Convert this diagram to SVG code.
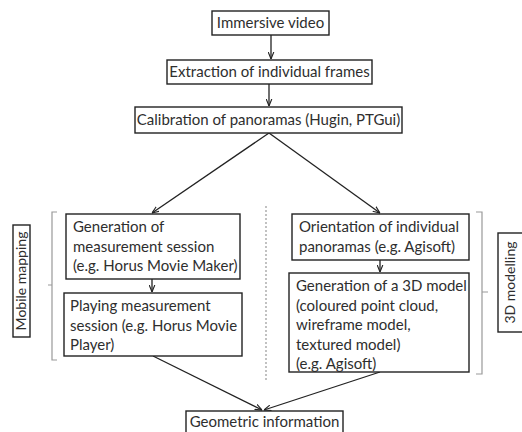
<svg xmlns="http://www.w3.org/2000/svg" width="522" height="432" viewBox="0 0 522 432">
<defs>
<marker id="ah" viewBox="0 0 10 10" refX="10" refY="5" markerWidth="7" markerHeight="7" orient="auto" markerUnits="userSpaceOnUse">
<path d="M0,1 L10,5 L0,9" fill="none" stroke="#222" stroke-width="1.6"/>
</marker>
<style>
.box{fill:#fff;stroke:#222;stroke-width:1.4}
.t{font-family:Lato,"Liberation Sans",sans-serif;font-size:15px;fill:#2e2e2e}
.v{font-size:14px}
.c{text-anchor:middle}
.ln{stroke:#222;stroke-width:1.3;fill:none}
.br{stroke:#999;stroke-width:1.2;fill:none}
</style>
</defs>
<rect width="522" height="432" fill="#fff"/>
<g id="connectors">
<line class="ln" x1="271" y1="35" x2="271" y2="59" marker-end="url(#ah)"/>
<line class="ln" x1="269" y1="84" x2="269" y2="106" marker-end="url(#ah)"/>
<line class="ln" x1="269" y1="133" x2="152" y2="213" marker-end="url(#ah)"/>
<line class="ln" x1="269" y1="133" x2="380" y2="213" marker-end="url(#ah)"/>
<line class="ln" x1="152" y1="279" x2="152" y2="292" marker-end="url(#ah)"/>
<line class="ln" x1="380" y1="260" x2="380" y2="272" marker-end="url(#ah)"/>
<line class="ln" x1="153" y1="356" x2="262" y2="410" marker-end="url(#ah)"/>
<line class="ln" x1="380" y1="372" x2="264" y2="410" marker-end="url(#ah)"/>
<line x1="266" y1="206" x2="266" y2="380" stroke="#999" stroke-width="1.2" stroke-dasharray="2,2"/>
</g>
<g id="n-immersive">
<rect class="box" x="212" y="11" width="117" height="24" stroke-width="2.2"/>
<text class="t c" x="270.5" y="28">Immersive video</text>
</g>
<g id="n-extraction">
<rect class="box" x="167" y="60" width="205" height="24"/>
<text class="t c" x="269.5" y="77">Extraction of individual frames</text>
</g>
<g id="n-calibration">
<rect class="box" x="135" y="107" width="267" height="26"/>
<text class="t c" x="268.5" y="125">Calibration of panoramas (Hugin, PTGui)</text>
</g>
<g id="n-generation-session">
<rect class="box" x="66" y="214" width="174" height="65"/>
<text class="t" x="73" y="232">Generation of</text>
<text class="t" x="73" y="251.5">measurement session</text>
<text class="t" x="73" y="271">(e.g. Horus Movie Maker)</text>
</g>
<g id="n-playing-session">
<rect class="box" x="64" y="293" width="178" height="63"/>
<text class="t" x="70" y="311">Playing measurement</text>
<text class="t" x="70" y="330.5">session (e.g. Horus Movie</text>
<text class="t" x="70" y="350">Player)</text>
</g>
<g id="n-orientation">
<rect class="box" x="292" y="214" width="177" height="46"/>
<text class="t" x="299" y="232">Orientation of individual</text>
<text class="t" x="299" y="252">panoramas (e.g. Agisoft)</text>
</g>
<g id="n-3dmodel">
<rect class="box" x="289" y="273" width="180" height="99"/>
<text class="t" x="296" y="291">Generation of a 3D model</text>
<text class="t" x="296" y="310.5">(coloured point cloud,</text>
<text class="t" x="296" y="330">wireframe model,</text>
<text class="t" x="296" y="349.5">textured model)</text>
<text class="t" x="296" y="369">(e.g. Agisoft)</text>
</g>
<g id="n-geometric">
<rect class="box" x="186" y="411" width="157" height="30"/>
<text class="t c" x="264.5" y="427">Geometric information</text>
</g>
<g id="g-mobile">
<path class="br" d="M57,212 H52 V360 H57 M52,285 H48"/>
<rect class="box" x="13" y="225" width="17" height="112"/>
<text class="t v c" transform="translate(26,281) rotate(-90)">Mobile mapping</text>
</g>
<g id="g-3d">
<path class="br" d="M476,212 H482 V374 H476 M482,292 H488"/>
<rect class="box" x="498" y="233" width="30" height="99"/>
<text class="t v c" transform="translate(515,282.5) rotate(-90)">3D modelling</text>
</g>
</svg>
